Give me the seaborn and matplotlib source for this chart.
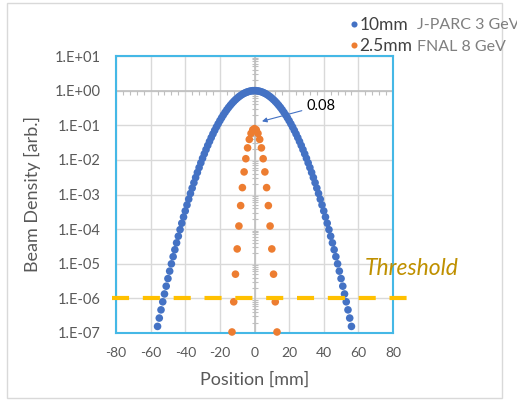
import numpy as np
import pandas as pd
import matplotlib
matplotlib.use("Agg")
import matplotlib.pyplot as plt
import seaborn as sns
from matplotlib.patches import Rectangle

# ---------------- data ----------------
pos_10mm = list(range(-56, 57))
dens_10mm_half = [1.0, 0.995, 0.980, 0.956, 0.923, 0.882, 0.835, 0.783, 0.726, 0.667,
                  0.607, 0.546, 0.487, 0.430, 0.375, 0.325, 0.278, 0.236, 0.198, 0.164,
                  0.135, 0.110, 0.0889, 0.0710, 0.0561, 0.0439, 0.0340, 0.0261, 0.0198, 0.0149,
                  0.0111, 0.00819, 0.00598, 0.00432, 0.00309, 0.00219, 0.00153, 0.00107, 0.000732, 0.000498,
                  0.000335, 0.000224, 0.000148, 9.66e-5, 6.25e-5, 4.01e-5, 2.54e-5, 1.60e-5, 9.94e-6, 6.12e-6,
                  3.73e-6, 2.25e-6, 1.34e-6, 7.95e-7, 4.66e-7, 2.70e-7, 1.55e-7]
dens_10mm = dens_10mm_half[:0:-1] + dens_10mm_half

pos_25mm = list(range(-13, 14))
dens_25mm_half = [0.0800, 0.0738, 0.0581, 0.0390, 0.0222, 0.0108, 0.00449, 0.00158,
                  0.000478, 0.000123, 2.68e-5, 5.00e-6, 7.95e-7, 1.07e-7]
dens_25mm = dens_25mm_half[:0:-1] + dens_25mm_half

series_names = ["10mm", "2.5mm"]
series_notes = ["J-PARC 3 GeV", "FNAL 8 GeV"]
threshold = 1e-6
peak_label = "0.08"
x_ticks = [-80, -60, -40, -20, 0, 20, 40, 60, 80]
y_ticks = [1e1, 1e0, 1e-1, 1e-2, 1e-3, 1e-4, 1e-5, 1e-6, 1e-7]
y_ticklabels = ["1.E+01", "1.E+00", "1.E-01", "1.E-02", "1.E-03", "1.E-04", "1.E-05", "1.E-06", "1.E-07"]

df = pd.DataFrame({
    "Position": pos_10mm + pos_25mm,
    "Density": dens_10mm + dens_25mm,
    "Beam": [series_names[0]] * len(pos_10mm) + [series_names[1]] * len(pos_25mm),
})

# ---------------- style ----------------
sns.set_style("white")
plt.rcParams["font.family"] = ["Lato", "DejaVu Sans"]
grey_txt = "#595959"
spine_col = "#45B8E6"
grid_col = "#D9D9D9"

fig = plt.figure(figsize=(5.17, 4.01), dpi=100)
ax = fig.add_axes([116 / 517, 1 - 333 / 401, 277 / 517, 277 / 401])

sns.scatterplot(data=df, x="Position", y="Density", hue="Beam",
                palette={"10mm": "#4472C4", "2.5mm": "#ED7D31"},
                s=30, linewidth=0, ax=ax, zorder=4, clip_on=False)

ax.set_yscale("log")
ax.set_xlim(-80, 80)
ax.set_ylim(1e-7, 1e1)
ax.set_xticks(x_ticks)
ax.set_xticklabels([str(t) for t in x_ticks])
ax.set_yticks(y_ticks)
ax.set_yticklabels(y_ticklabels)
ax.minorticks_off()
ax.tick_params(axis="both", length=0, colors=grey_txt)
ax.tick_params(axis="y", pad=11, labelsize=10.5)
ax.tick_params(axis="x", pad=10, labelsize=10)
ax.grid(True, color=grid_col, linewidth=1, zorder=0)
ax.set_axisbelow(True)
for sp in ax.spines.values():
    sp.set_color(spine_col)
    sp.set_linewidth(1.5)

ax.set_xlabel("Position [mm]", color=grey_txt, fontsize=13, labelpad=9)
ax.set_ylabel("Beam Density [arb.]", color=grey_txt, fontsize=13, labelpad=10)

# Excel-style crossing axes at x=0 and y=1
ax.axvline(0, color="#BFBFBF", linewidth=1.2, zorder=1)
ax.axhline(1, color="#BFBFBF", linewidth=1.2, zorder=1)
minor_y = [m * 10.0 ** e for e in range(-7, 1) for m in range(2, 10)]
ax.plot([0] * len(minor_y), minor_y, linestyle="none", marker="_", markersize=4,
        color="#BFBFBF", markeredgewidth=0.8, zorder=1)
minor_x = [v for v in np.arange(-80, 81, 4) if v % 20 != 0]
ax.plot(minor_x, [1] * len(minor_x), linestyle="none", marker=3, markersize=3,
        color="#BFBFBF", markeredgewidth=0.8, zorder=1)

# Threshold line
thr = ax.axhline(threshold, xmin=-0.015, xmax=1.05, color="#FFC000", linewidth=3,
                 clip_on=False, zorder=5)
thr.set_dashes((4.1, 3.3))
ax.text(63.5, 7.4e-6, "Threshold", color="#BF9000", fontsize=16.5, style="italic",
        va="center", ha="left", clip_on=False, zorder=6)

# annotation 0.08
ax.annotate(peak_label, xy=(4.3, 0.13), xytext=(30, 0.37), fontsize=10.5,
            color="#000000", va="center", ha="left",
            arrowprops=dict(arrowstyle="-|>", color="#4472C4", lw=0.8,
                            mutation_scale=7, shrinkA=1, shrinkB=0))

# legend
sns.move_legend(ax, "upper left", bbox_to_anchor=(351 / 517, 1 - 17 / 401),
                bbox_transform=fig.transFigure, frameon=False, title=None,
                fontsize=12.5, handlelength=0.4, handletextpad=0.1, labelspacing=0.3,
                borderpad=0, borderaxespad=0, markerscale=0.8)
for t in ax.get_legend().get_texts():
    t.set_color("#404040")
for i, note in enumerate(series_notes):
    fig.text(417 / 517, 1 - (25 + 22 * i) / 401, note, color="#7F7F7F",
             fontsize=11.5, va="center", ha="left")

# outer frame
fig.patches.append(Rectangle((7 / 517, 1 - 398 / 401), 495 / 517, 395 / 401,
                             transform=fig.transFigure, fill=False,
                             edgecolor="#D9D9D9", linewidth=1))

fig.savefig("out.png", dpi=100)
